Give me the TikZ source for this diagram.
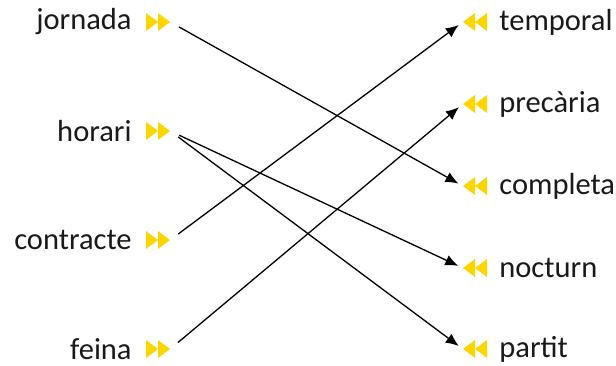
\documentclass[tikz,border=0pt]{standalone}
\usepackage{fontspec}
\setmainfont{Carlito}
\usetikzlibrary{arrows.meta,positioning}
\definecolor{markyellow}{HTML}{FFD500}

\begin{document}
\begin{tikzpicture}[
    x=1pt, y=1pt,
    word/.style = {font=\fontsize{30.5}{34}\selectfont, inner sep=0pt, text=black!90},
    marker/.style = {minimum width=24pt, minimum height=18pt, inner sep=0pt},
    fwd/.style = {marker, path picture={
        \fill[markyellow] ([shift={(-12,-9)}]path picture bounding box.center) -- ([shift={(0,0)}]path picture bounding box.center) -- ([shift={(-12,9)}]path picture bounding box.center) -- cycle;
        \fill[markyellow] ([shift={(0,-9)}]path picture bounding box.center) -- ([shift={(12,0)}]path picture bounding box.center) -- ([shift={(0,9)}]path picture bounding box.center) -- cycle;}},
    bwd/.style = {marker, path picture={
        \fill[markyellow] ([shift={(12,-9)}]path picture bounding box.center) -- ([shift={(0,0)}]path picture bounding box.center) -- ([shift={(12,9)}]path picture bounding box.center) -- cycle;
        \fill[markyellow] ([shift={(0,-9)}]path picture bounding box.center) -- ([shift={(-12,0)}]path picture bounding box.center) -- ([shift={(0,9)}]path picture bounding box.center) -- cycle;}},
    link/.style = {draw, line width=1.3pt, -{Latex[length=13pt,width=11pt]}, shorten <=10pt, shorten >=5pt},
]
\useasboundingbox (0,0) rectangle (616,365);

% Left column
\node [fwd] (mjornada) at (158,343) {};
\node [fwd] (mhorari) at (158,234) {};
\node [fwd] (mcontracte) at (158,125) {};
\node [fwd] (mfeina) at (158,16) {};
\node [word, left=14pt of mjornada] (jornada) {jornada};
\node [word, left=14pt of mhorari] (horari) {horari};
\node [word, left=14pt of mcontracte] (contracte) {contracte};
\node [word, left=14pt of mfeina] (feina) {feina};

% Right column
\node [bwd] (mtemporal) at (475,343) {};
\node [bwd] (mprecaria) at (475,261) {};
\node [bwd] (mcompleta) at (475,179) {};
\node [bwd] (mnocturn) at (475,97) {};
\node [bwd] (mpartit) at (475,16) {};
\node [word, right=12pt of mtemporal] (temporal) {temporal};
\node [word, right=12pt of mprecaria] (precaria) {precària};
\node [word, right=12pt of mcompleta] (completa) {completa};
\node [word, right=12pt of mnocturn] (nocturn) {nocturn};
\node [word, right=12pt of mpartit] (partit) {partit};

% Links
\path [link] (mjornada.east) -- (mcompleta.west);
\path [link] (mhorari.east) -- (mnocturn.west);
\path [link] (mhorari.east) -- (mpartit.west);
\path [link] (mcontracte.east) -- (mtemporal.west);
\path [link] (mfeina.east) -- (mprecaria.west);

\end{tikzpicture}
\end{document}
